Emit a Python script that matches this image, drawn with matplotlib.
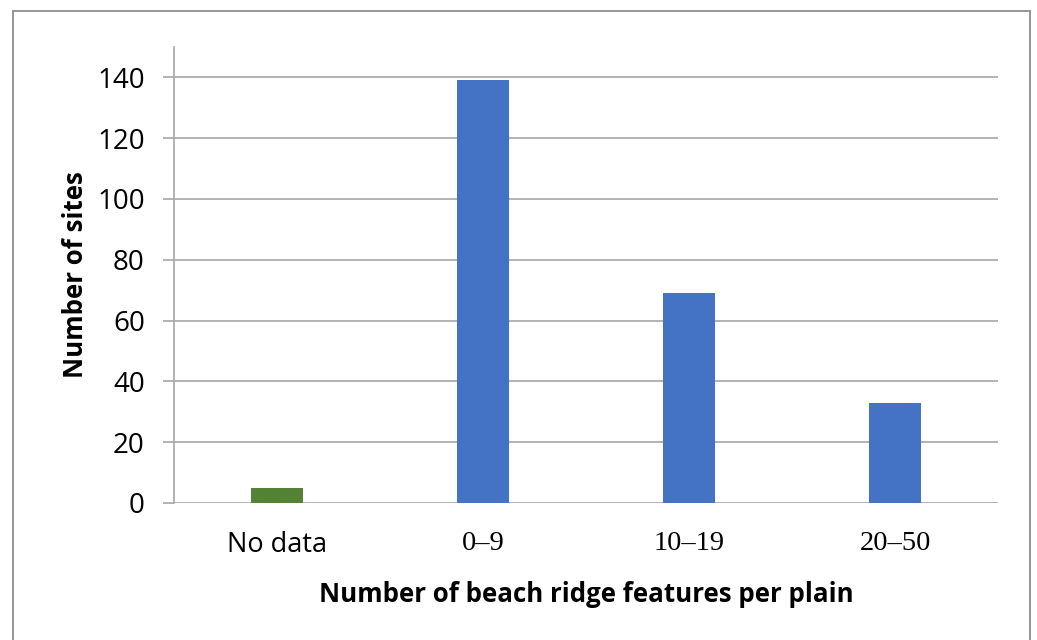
import matplotlib.pyplot as plt
from matplotlib.patches import Rectangle

categories = ["No data", "0\u20139", "10\u201319", "20\u201350"]
sites = [5, 139, 69, 33]
bar_colors = ["#548235", "#4472C4", "#4472C4", "#4472C4"]
yticks = [0, 20, 40, 60, 80, 100, 120, 140]


def main():
    fig = plt.figure(figsize=(10.37, 6.4), dpi=100)
    ax = fig.add_axes([0.1678, 0.2141, 0.7946, 0.7125])

    # grey frame round the chart (bottom edge falls outside the image)
    fig.patches.append(Rectangle((13 / 1037, -0.05), (1030 - 13) / 1037, 1 - 11 / 640 + 0.05,
                                 transform=fig.transFigure, fill=False,
                                 edgecolor="#8C8C8C", linewidth=1.3))

    x = range(len(categories))
    ax.bar(x, sites, width=0.25, color=bar_colors, zorder=3)

    ax.set_xlim(-0.5, len(categories) - 0.5)
    ax.set_ylim(0, 150)
    ax.set_yticks(yticks)
    ax.set_xticks(list(x))
    ax.set_xticklabels(categories, fontsize=20.5, family="Liberation Serif")
    # first label is in the sans font in the original
    first = ax.get_xticklabels()[0]
    first.set_family("Open Sans")
    first.set_fontsize(19.5)
    for lbl in ax.get_yticklabels():
        lbl.set_fontsize(20)
        lbl.set_family("Open Sans")

    ax.grid(axis="y", color="#A6A6A6", linewidth=1.2, zorder=0)
    for s in ["top", "right", "bottom"]:
        ax.spines[s].set_visible(False)
    ax.spines["left"].set_color("#A6A6A6")
    ax.spines["left"].set_linewidth(1.2)
    ax.tick_params(axis="y", length=8, width=1.2, color="#A6A6A6", pad=13)
    ax.tick_params(axis="x", length=0, pad=20)

    ax.set_xlabel("Number of beach ridge features per plain", fontsize=18.6,
                  fontweight="bold", family="Open Sans", labelpad=16)
    ax.set_ylabel("Number of sites", fontsize=18.6, fontweight="bold",
                  family="Open Sans", labelpad=6)

    fig.savefig("out.png", dpi=100)


if __name__ == "__main__":
    main()
